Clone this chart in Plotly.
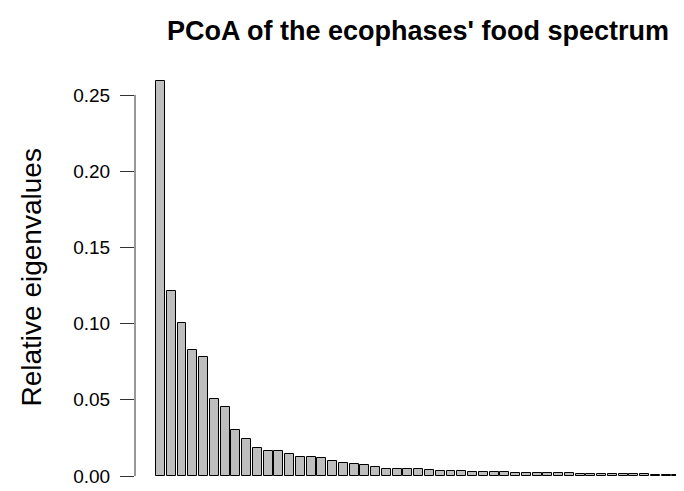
import plotly.graph_objects as go

title_text = "PCoA of the ecophases' food spectrum"
y_label = "Relative eigenvalues"
eigen_rel = [
    0.2589, 0.1216, 0.1006, 0.0828, 0.0779, 0.0504, 0.0453, 0.0299, 0.0240, 0.0183,
    0.0166, 0.0166, 0.0144, 0.0125, 0.0125, 0.0115, 0.0096, 0.0087, 0.0081, 0.0070,
    0.0057, 0.0049, 0.0049, 0.0049, 0.0047, 0.0037, 0.0036, 0.0034, 0.0031, 0.0029,
    0.0028, 0.0026, 0.0023, 0.0022, 0.0021, 0.0020, 0.0020, 0.0018, 0.0017, 0.0016,
    0.0016, 0.0014, 0.0013, 0.0012, 0.0012, 0.0010, 0.0009, 0.0009, 0.0007, 0.0006,
]
axis_index = list(range(len(eigen_rel)))
tick_vals = [0.00, 0.05, 0.10, 0.15, 0.20, 0.25]
tick_text = ["0.00", "0.05", "0.10", "0.15", "0.20", "0.25"]

W, H = 684, 491
L, R, T, B = 127, 0, 70, 0
PX_PER_UNIT = 1524.0
BASE_Y = 468  # pixel row of the zero line
y_lo = -(H - B - BASE_Y) / PX_PER_UNIT
y_hi = (BASE_Y - T) / PX_PER_UNIT

fig = go.Figure()
fig.add_trace(go.Bar(
    x=axis_index, y=eigen_rel, width=0.83,
    marker=dict(color="#bebebe", line=dict(color="#000000", width=1)),
    showlegend=False, hoverinfo="skip",
))

fig.update_layout(
    width=W, height=H,
    margin=dict(l=L, r=R, t=T, b=B, pad=0),
    paper_bgcolor="white", plot_bgcolor="white",
    font=dict(family="Liberation Sans, Arial, sans-serif", color="#000000"),
    title=dict(text=f"<b>{title_text}</b>", x=410 / W, xref="container", xanchor="center",
               y=1 - 23 / H, yref="container", yanchor="middle",
               font=dict(size=27, color="#000000")),
    bargap=0,
    xaxis=dict(range=[-2.37, 49.4], showgrid=False, zeroline=False, showline=False,
               showticklabels=False, ticks=""),
    yaxis=dict(range=[y_lo, y_hi], showgrid=False, zeroline=False, showline=False,
               tickmode="array", tickvals=tick_vals, ticktext=tick_text,
               ticks="outside", ticklen=14, tickwidth=1, tickcolor="#333333",
               ticklabelstandoff=6, ticklabeloverflow="allow",
               tickfont=dict(size=19, color="#000000")),
)

fig.add_shape(type="line", xref="paper", yref="y", x0=0, x1=0, y0=0, y1=0.25,
              line=dict(color="#333333", width=1))

fig.add_annotation(text=y_label, xref="paper", yref="y", x=0, y=0.125,
                   xanchor="center", yanchor="middle", xshift=23 - L, yshift=8,
                   textangle=-90, showarrow=False, font=dict(size=28, color="#000000"))

fig.write_html("out.html")
